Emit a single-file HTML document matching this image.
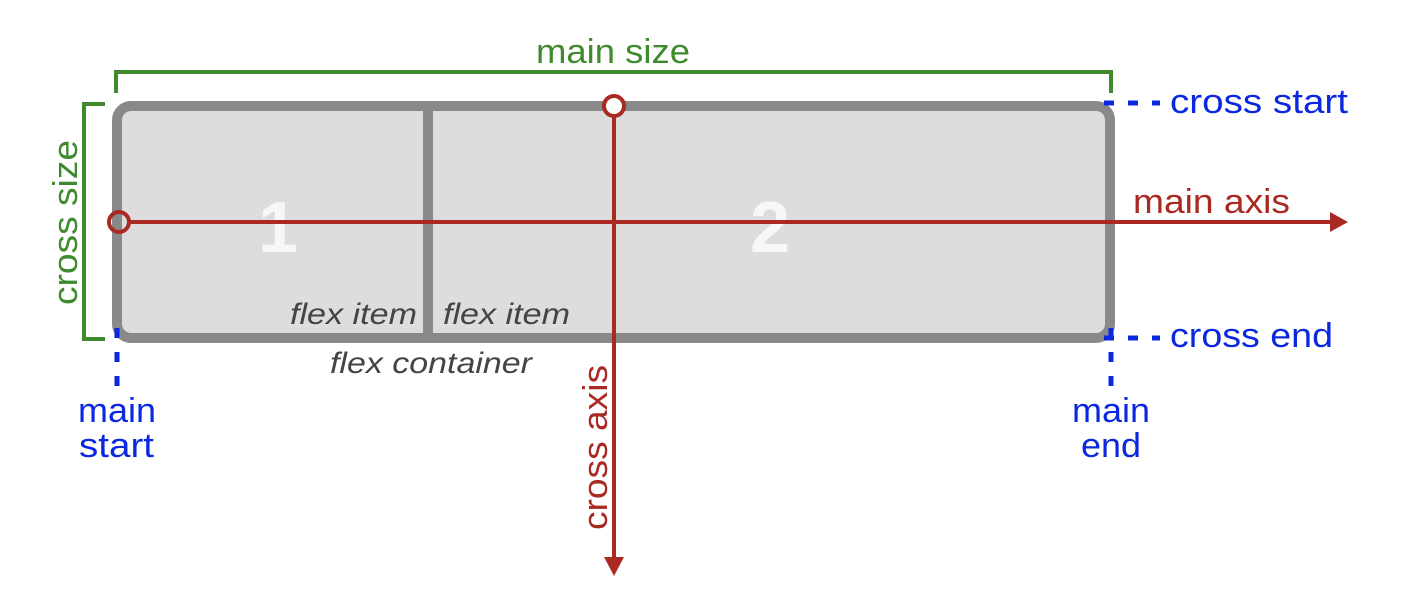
<!DOCTYPE html>
<html><head><style>body{margin:0;background:#fff}svg text{font-family:"Liberation Sans",sans-serif}</style></head>
<body>
<svg width="1410" height="588" viewBox="0 0 1410 588" xmlns="http://www.w3.org/2000/svg">
<rect x="117" y="106" width="993" height="232" rx="14" fill="#dddddd" stroke="#898989" stroke-width="10"/>
<line x1="428" y1="108" x2="428" y2="336" stroke="#898989" stroke-width="10"/>
<text x="278" y="252" font-size="72" font-weight="bold" fill="#f7f7f7" text-anchor="middle">1</text>
<text x="770" y="252" font-size="72" font-weight="bold" fill="#f7f7f7" text-anchor="middle">2</text>
<text x="290" y="324" font-size="30" font-style="italic" fill="#444" textLength="127" lengthAdjust="spacingAndGlyphs">flex item</text>
<text x="443" y="324" font-size="30" font-style="italic" fill="#444" textLength="127" lengthAdjust="spacingAndGlyphs">flex item</text>
<text x="330" y="373" font-size="30" font-style="italic" fill="#444" textLength="202" lengthAdjust="spacingAndGlyphs">flex container</text>
<!-- green brackets -->
<polyline points="116,93 116,72 1111,72 1111,93" fill="none" stroke="#3f8a2c" stroke-width="4"/>
<text x="536" y="63" font-size="34" fill="#3f8a2c" textLength="154" lengthAdjust="spacingAndGlyphs">main size</text>
<polyline points="105,104 84,104 84,339 105,339" fill="none" stroke="#3f8a2c" stroke-width="4"/>
<text transform="translate(77,305) rotate(-90)" font-size="34" fill="#3f8a2c" textLength="165" lengthAdjust="spacingAndGlyphs">cross size</text>
<!-- blue dashes -->
<g stroke="#0a28e0" stroke-width="5" stroke-dasharray="10,14">
<line x1="1104" y1="103" x2="1160" y2="103"/>
<line x1="1104" y1="338" x2="1160" y2="338"/>
<line x1="117" y1="328" x2="117" y2="392"/>
<line x1="1111" y1="328" x2="1111" y2="392"/>
</g>
<g font-size="34" fill="#0a28e0">
<text x="1170" y="113" textLength="178" lengthAdjust="spacingAndGlyphs">cross start</text>
<text x="1170" y="347" textLength="163" lengthAdjust="spacingAndGlyphs">cross end</text>
<text x="78" y="422" textLength="78" lengthAdjust="spacingAndGlyphs">main</text>
<text x="79" y="457" textLength="75" lengthAdjust="spacingAndGlyphs">start</text>
<text x="1072" y="422" textLength="78" lengthAdjust="spacingAndGlyphs">main</text>
<text x="1081" y="457" textLength="60" lengthAdjust="spacingAndGlyphs">end</text>
</g>
<!-- axes -->
<g stroke="#a82a22" stroke-width="4" fill="none">
<line x1="129" y1="222" x2="1332" y2="222"/>
<line x1="614" y1="116" x2="614" y2="560"/>
<circle cx="119" cy="222" r="10"/>
<circle cx="614" cy="106" r="10" fill="#fff"/>
</g>
<polygon points="1330,212 1348,222 1330,232" fill="#a82a22"/>
<polygon points="604,557 614,576 624,557" fill="#a82a22"/>
<text x="1133" y="213" font-size="34" fill="#a82a22" textLength="157" lengthAdjust="spacingAndGlyphs">main axis</text>
<text transform="translate(607,530) rotate(-90)" font-size="34" fill="#a82a22" textLength="165" lengthAdjust="spacingAndGlyphs">cross axis</text>
</svg>
</body></html>
